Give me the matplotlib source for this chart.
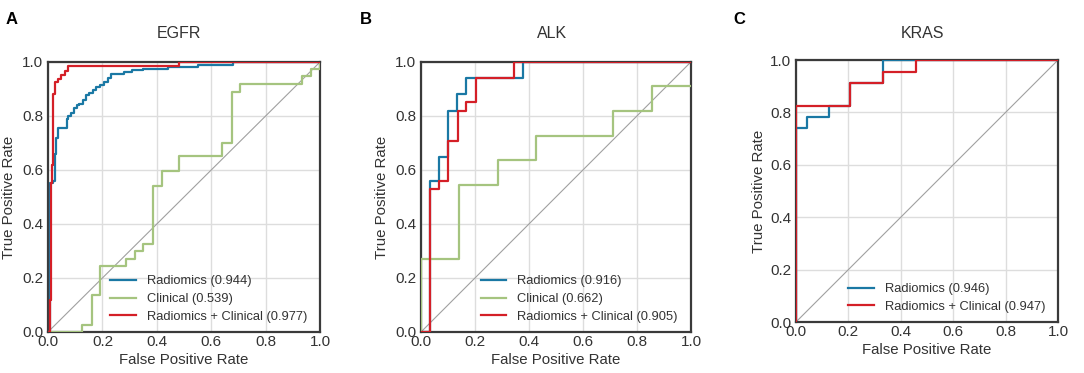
import numpy as np
import matplotlib
matplotlib.use("Agg")
import matplotlib.pyplot as plt

plt.rcParams['font.family'] = ['Liberation Sans', 'DejaVu Sans']

# ROC step points (fpr where the rise happens, tpr after the rise)
egfr_rad_fpr = [0, 0.009, 0.02, 0.025, 0.03, 0.035, 0.069, 0.075, 0.085, 0.095, 0.105, 0.115, 0.13,
                0.14, 0.15, 0.165, 0.175, 0.19, 0.205, 0.22, 0.23, 0.28, 0.31, 0.35, 0.42, 0.44, 0.55, 0.68, 1.0]
egfr_rad_tpr = [0, 0.55, 0.56, 0.66, 0.72, 0.755, 0.79, 0.80, 0.81, 0.83, 0.84, 0.845, 0.86,
                0.877, 0.885, 0.895, 0.908, 0.915, 0.925, 0.94, 0.955, 0.962, 0.97, 0.972, 0.975, 0.98, 0.99, 1.0, 1.0]
egfr_cli_fpr = [0, 0.125, 0.16, 0.19, 0.288, 0.32, 0.35, 0.384, 0.42, 0.483, 0.641, 0.675, 0.706, 0.933, 0.966, 1.0]
egfr_cli_tpr = [0, 0.025, 0.136, 0.244, 0.27, 0.30, 0.327, 0.54, 0.596, 0.65, 0.70, 0.89, 0.92, 0.947, 0.975, 1.0]
egfr_comb_fpr = [0, 0.006, 0.01, 0.015, 0.02, 0.026, 0.037, 0.048, 0.062, 0.073, 0.48, 1.0]
egfr_comb_tpr = [0, 0.12, 0.55, 0.62, 0.88, 0.926, 0.935, 0.95, 0.965, 0.985, 1.0, 1.0]

alk_rad_fpr = [0, 0.032, 0.065, 0.099, 0.133, 0.168, 0.377, 1.0]
alk_rad_tpr = [0, 0.56, 0.647, 0.82, 0.88, 0.94, 1.0, 1.0]
alk_cli_fpr = [0, 0.0, 0.14, 0.285, 0.425, 0.713, 0.857, 1.0]
alk_cli_tpr = [0, 0.272, 0.545, 0.636, 0.727, 0.818, 0.909, 0.909]
alk_comb_fpr = [0, 0.032, 0.068, 0.099, 0.136, 0.168, 0.205, 0.343, 1.0]
alk_comb_tpr = [0, 0.53, 0.56, 0.706, 0.82, 0.85, 0.94, 1.0, 1.0]

kras_rad_fpr = [0, 0.0, 0.042, 0.125, 0.208, 0.333, 1.0]
kras_rad_tpr = [0, 0.74, 0.783, 0.826, 0.913, 1.0, 1.0]
kras_comb_fpr = [0, 0.0, 0.208, 0.333, 0.458, 1.0]
kras_comb_tpr = [0, 0.826, 0.913, 0.956, 1.0, 1.0]

titles = ["EGFR", "ALK", "KRAS"]
panel_labels = ["A", "B", "C"]
auc_labels = [
    ["Radiomics (0.944)", "Clinical (0.539)", "Radiomics + Clinical (0.977)"],
    ["Radiomics (0.916)", "Clinical (0.662)", "Radiomics + Clinical (0.905)"],
    ["Radiomics (0.946)", "Radiomics + Clinical (0.947)"],
]
curves = [
    [(egfr_rad_fpr, egfr_rad_tpr), (egfr_cli_fpr, egfr_cli_tpr), (egfr_comb_fpr, egfr_comb_tpr)],
    [(alk_rad_fpr, alk_rad_tpr), (alk_cli_fpr, alk_cli_tpr), (alk_comb_fpr, alk_comb_tpr)],
    [(kras_rad_fpr, kras_rad_tpr), (kras_comb_fpr, kras_comb_tpr)],
]
colors3 = ["#1a78a4", "#a5c47f", "#d41f27"]
colors2 = ["#1a78a4", "#d41f27"]

fig = plt.figure(figsize=(10.84, 3.73), dpi=100)
positions = [
    [0.0443, 0.110, 0.251, 0.724],
    [0.3884, 0.110, 0.249, 0.724],
    [0.7343, 0.1367, 0.2417, 0.7024],
]
ylab_x = [9, 382, 759]
xlab_y = [360, 360, 350]
title_x = [179, 552, 922]
plab_x = [6, 360, 733]
txt = "#333333"
ticks = np.arange(0, 1.01, 0.2)

for i in range(3):
    ax = fig.add_axes(positions[i])
    ax.plot([0, 1], [0, 1], color="#a0a0a0", lw=0.8, zorder=1)
    cols = colors3 if len(curves[i]) == 3 else colors2
    for (fpr, tpr), c, lab in zip(curves[i], cols, auc_labels[i]):
        ax.plot(fpr, tpr, drawstyle="steps-post", color=c, lw=1.6, label=lab, zorder=3)
    ax.set_xlim(0, 1)
    ax.set_ylim(0, 1)
    ax.set_xticks(ticks)
    ax.set_yticks(ticks)
    ax.set_xticklabels([f"{v:.1f}" for v in ticks])
    ax.set_yticklabels([f"{v:.1f}" for v in ticks])
    ax.tick_params(axis="y", length=0, pad=3.5, labelsize=11, colors=txt)
    ax.tick_params(axis="x", length=0, pad=2.5, labelsize=11, colors=txt)
    ax.grid(True, color="#dddddd", lw=1.0)
    ax.set_axisbelow(True)
    for s in ax.spines.values():
        s.set_color("#3a3a3a")
        s.set_linewidth(1.6)
    leg = ax.legend(loc="lower right", bbox_to_anchor=(0.985, 0.0), frameon=False, fontsize=9.3,
                    handlelength=1.95, handletextpad=0.85, labelspacing=0.45, borderaxespad=0.3)
    for t in leg.get_texts():
        t.set_color(txt)
    fig.text(title_x[i] / 1084, 1 - 33 / 373, titles[i], ha="center", va="center",
             fontsize=11.5, color=txt)
    fig.text(plab_x[i] / 1084, 1 - 20 / 373, panel_labels[i], ha="left", va="center",
             fontsize=12, fontweight="bold", color="black")
    fig.text(ylab_x[i] / 1084, positions[i][1] + positions[i][3] / 2, "True Positive Rate",
             rotation=90, ha="center", va="center", fontsize=10.8, color=txt)
    fig.text(positions[i][0] + positions[i][2] / 2, 1 - xlab_y[i] / 373, "False Positive Rate",
             ha="center", va="center", fontsize=10.8, color=txt)

fig.savefig("out.png", dpi=100)
